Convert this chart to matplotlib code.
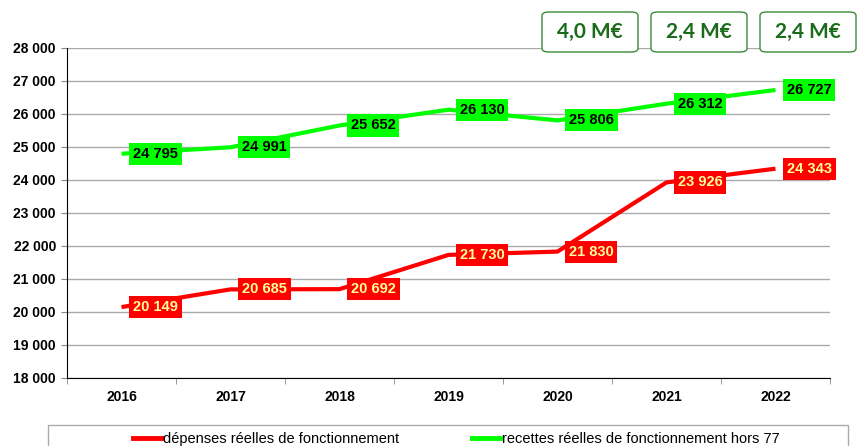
import matplotlib.pyplot as plt
from matplotlib.patches import FancyBboxPatch, Rectangle
from matplotlib.lines import Line2D

years = ["2016", "2017", "2018", "2019", "2020", "2021", "2022"]
depenses = [20149, 20685, 20692, 21730, 21830, 23926, 24343]
recettes = [24795, 24991, 25652, 26130, 25806, 26312, 26727]
depenses_labels = ["20 149", "20 685", "20 692", "21 730", "21 830", "23 926", "24 343"]
recettes_labels = ["24 795", "24 991", "25 652", "26 130", "25 806", "26 312", "26 727"]
ecarts = ["4,0 M€", "2,4 M€", "2,4 M€"]
series_names = ["dépenses réelles de fonctionnement",
                "recettes réelles de fonctionnement hors 77"]

plt.rcParams['font.family'] = ['Liberation Sans', 'DejaVu Sans']

fig = plt.figure(figsize=(8.57, 4.46), dpi=100)
ax = fig.add_axes([0.0782, 0.1525, 0.8903, 0.7399])

x = range(len(years))
ax.plot(x, depenses, color="#ff0000", lw=3, solid_capstyle="butt", zorder=3)
ax.plot(x, recettes, color="#00ff00", lw=3, solid_capstyle="butt", zorder=3)

for i in x:
    ax.annotate(recettes_labels[i], (i, recettes[i]), xytext=(8, 0), textcoords="offset points",
                ha="left", va="center", fontsize=10.5, fontweight="bold", color="black",
                bbox=dict(boxstyle="square,pad=0.28", fc="#00ff00", ec="none"),
                zorder=5, annotation_clip=False)
    ax.annotate(depenses_labels[i], (i, depenses[i]), xytext=(8, 0), textcoords="offset points",
                ha="left", va="center", fontsize=10.5, fontweight="bold", color="#ffff99",
                bbox=dict(boxstyle="square,pad=0.28", fc="#ff0000", ec="none"),
                zorder=5, annotation_clip=False)

ax.set_xlim(-0.5, len(years) - 0.5)
ax.set_ylim(18000, 28000)
ax.set_yticks(range(18000, 28001, 1000))
ax.set_yticklabels([f"{v // 1000} 000" for v in range(18000, 28001, 1000)],
                   fontsize=10, fontweight="bold")
ax.set_xticks(list(x))
ax.set_xticklabels(years, fontsize=10, fontweight="bold")
ax.set_xticks([i + 0.5 for i in range(-1, len(years))], minor=True)
ax.tick_params(axis="x", which="major", length=0, pad=9)
ax.tick_params(axis="x", which="minor", length=4, direction="out", color="#888888")
ax.tick_params(axis="y", length=4, direction="out", color="#888888", pad=4)
ax.grid(axis="y", color="#aaaaaa", lw=1)
ax.set_axisbelow(True)
for s in ["top", "right"]:
    ax.spines[s].set_visible(False)
ax.spines["left"].set_color("black")
ax.spines["bottom"].set_color("black")

# boxes with the gap values
for j, txt in enumerate(ecarts):
    x0 = (542 + j * 109) / 857
    box = FancyBboxPatch((x0, 1 - 52 / 446), 96 / 857, 40 / 446,
                         boxstyle="round,pad=0,rounding_size=0.008",
                         transform=fig.transFigure, fc="white", ec="#3a8a3a", lw=1.0)
    fig.patches.append(box)
    fig.text(x0 + 48 / 857, 1 - 32 / 446, txt, ha="center", va="center",
             fontsize=15, fontweight="bold", color="#1a6b1a", family="Lato")

# legend frame and entries
fig.patches.append(Rectangle((48 / 857, -0.05), 800 / 857, 1 - 425 / 446 + 0.05,
                             transform=fig.transFigure, fc="white", ec="#aaaaaa", lw=1))
colors = ["#ff0000", "#00ff00"]
starts = [133, 472]
for name, c, x_px in zip(series_names, colors, starts):
    leg = fig.legend([Line2D([], [], color=c, lw=3.5)], [name],
                     loc="center left", bbox_to_anchor=(x_px / 857, 1 - 439 / 446),
                     frameon=False, fontsize=10.5,
                     handlelength=2.0, handletextpad=0.05, borderaxespad=0, borderpad=0)

fig.savefig("out.png", dpi=100)
